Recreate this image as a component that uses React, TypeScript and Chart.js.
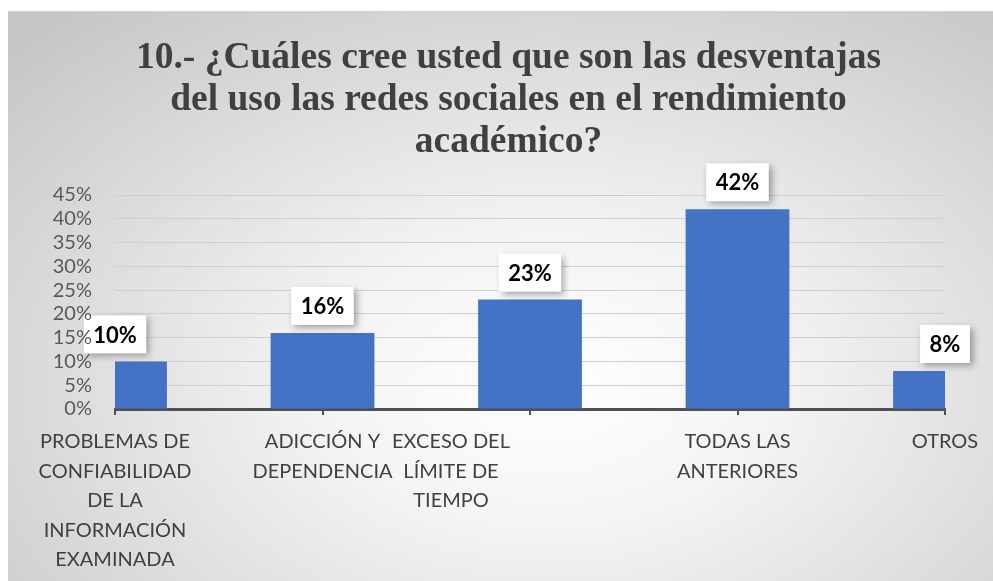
import React, { useEffect, useRef } from 'react';
import { Chart, registerables } from 'chart.js';

Chart.register(...registerables);

const titleLines = [
  '10.- ¿Cuáles cree usted que son las desventajas',
  'del uso las redes sociales en el rendimiento',
  'académico?',
];

const categories: string[][] = [
  ['PROBLEMAS DE', 'CONFIABILIDAD', 'DE LA', 'INFORMACIÓN', 'EXAMINADA'],
  ['ADICCIÓN Y', 'DEPENDENCIA'],
  ['EXCESO DEL', 'LÍMITE DE', 'TIEMPO'],
  ['TODAS LAS', 'ANTERIORES'],
  ['OTROS'],
];

const values = [10, 16, 23, 42, 8];

const yMax = 45;
const yStep = 5;

// Styling: horizontal nudge of individual category labels (as placed in the original)
const CATEGORY_LABEL_NUDGE = [0, 0, -79, 0, 0];

const titlePlugin = {
  id: 'customTitle',
  afterDraw(chart: any) {
    const ctx = chart.ctx as CanvasRenderingContext2D;
    ctx.save();
    ctx.font = 'bold 37.5px "Liberation Serif"';
    ctx.fillStyle = '#404040';
    ctx.textAlign = 'center';
    ctx.textBaseline = 'alphabetic';
    const cx = chart.width / 2 + 8;
    const firstBaseline = 56;
    const lineH = 42;
    titleLines.forEach((line, i) => {
      ctx.fillText(line, cx, firstBaseline + i * lineH);
    });
    ctx.restore();
  },
};

const xLabelsPlugin = {
  id: 'xLabels',
  afterDraw(chart: any) {
    const ctx = chart.ctx as CanvasRenderingContext2D;
    const xScale = chart.scales.x;
    ctx.save();
    ctx.font = '20px Lato';
    ctx.fillStyle = '#404040';
    ctx.textAlign = 'center';
    ctx.textBaseline = 'middle';
    const lineH = 29.5;
    const firstCenter = chart.chartArea.bottom + 33;
    categories.forEach((lines, i) => {
      const x = xScale.getPixelForTick(i) + CATEGORY_LABEL_NUDGE[i];
      lines.forEach((line, j) => {
        ctx.fillText(line, x, firstCenter + j * lineH);
      });
    });
    ctx.restore();
  },
};

const labelBoxes = {
  id: 'labelBoxes',
  afterDatasetsDraw(chart: any) {
    const ctx = chart.ctx as CanvasRenderingContext2D;
    const meta = chart.getDatasetMeta(0);
    ctx.save();
    ctx.font = 'bold 22px Lato';
    meta.data.forEach((bar: any, i: number) => {
      const text = values[i] + '%';
      const w = ctx.measureText(text).width + 19;
      const h = 38;
      const x = bar.x - w / 2;
      const y = bar.y - 8 - h;
      ctx.save();
      ctx.shadowColor = 'rgba(0,0,0,0.35)';
      ctx.shadowBlur = 7;
      ctx.shadowOffsetX = 3;
      ctx.shadowOffsetY = 3;
      ctx.fillStyle = '#ffffff';
      ctx.fillRect(x, y, w, h);
      ctx.restore();
      ctx.fillStyle = '#000000';
      ctx.textAlign = 'center';
      ctx.textBaseline = 'middle';
      ctx.fillText(text, bar.x, y + h / 2 + 1);
    });
    ctx.restore();
  },
};

export default function App() {
  const canvasRef = useRef<HTMLCanvasElement | null>(null);

  useEffect(() => {
    if (!canvasRef.current) return;
    const chart = new Chart(canvasRef.current, {
      type: 'bar',
      data: {
        labels: categories,
        datasets: [
          {
            data: values,
            backgroundColor: '#4472C4',
            barPercentage: 0.5,
            categoryPercentage: 1,
            clip: 0,
          } as any,
        ],
      },
      options: {
        animation: false,
        responsive: true,
        maintainAspectRatio: false,
        layout: { padding: { left: 0, right: 48, top: 183, bottom: 0 } },
        plugins: {
          legend: { display: false },
          tooltip: { enabled: false },
          title: { display: false },
        },
        scales: {
          x: {
            offset: false,
            grid: {
              display: true,
              offset: false,
              drawOnChartArea: false,
              drawTicks: true,
              tickLength: 6,
              color: '#505050',
              lineWidth: 2,
            },
            border: { display: true, color: '#505050', width: 3 },
            ticks: {
              display: false,
              autoSkip: false,
            },
            afterFit(scale: any) {
              scale.height = 172;
            },
          },
          y: {
            min: 0,
            max: yMax,
            grid: { color: '#cfcfcf', lineWidth: 1, drawTicks: false },
            border: { display: false },
            ticks: {
              z: 1,
              stepSize: yStep,
              autoSkip: false,
              color: '#595959',
              font: { family: 'Lato', size: 20 },
              padding: 23,
              callback: (v: any) => v + '%',
            },
            afterFit(scale: any) {
              scale.width = 107;
            },
          },
        },
      },
      plugins: [labelBoxes, titlePlugin, xLabelsPlugin],
    });
    return () => chart.destroy();
  }, []);

  return (
    <div style={{ position: 'fixed', left: 0, top: 0, width: 993, height: 581, background: '#ffffff', overflow: 'hidden' }}>
      <div
        style={{
          position: 'absolute',
          left: 8,
          top: 11,
          width: 985,
          height: 570,
          borderTop: '1px solid #d4d4d4',
          boxSizing: 'border-box',
          background: 'radial-gradient(ellipse 75% 85% at 55% 65%, #ffffff 0%, #f4f4f4 30%, #c6c6c6 100%)',
        }}
      >
        <canvas ref={canvasRef} />
      </div>
    </div>
  );
}
